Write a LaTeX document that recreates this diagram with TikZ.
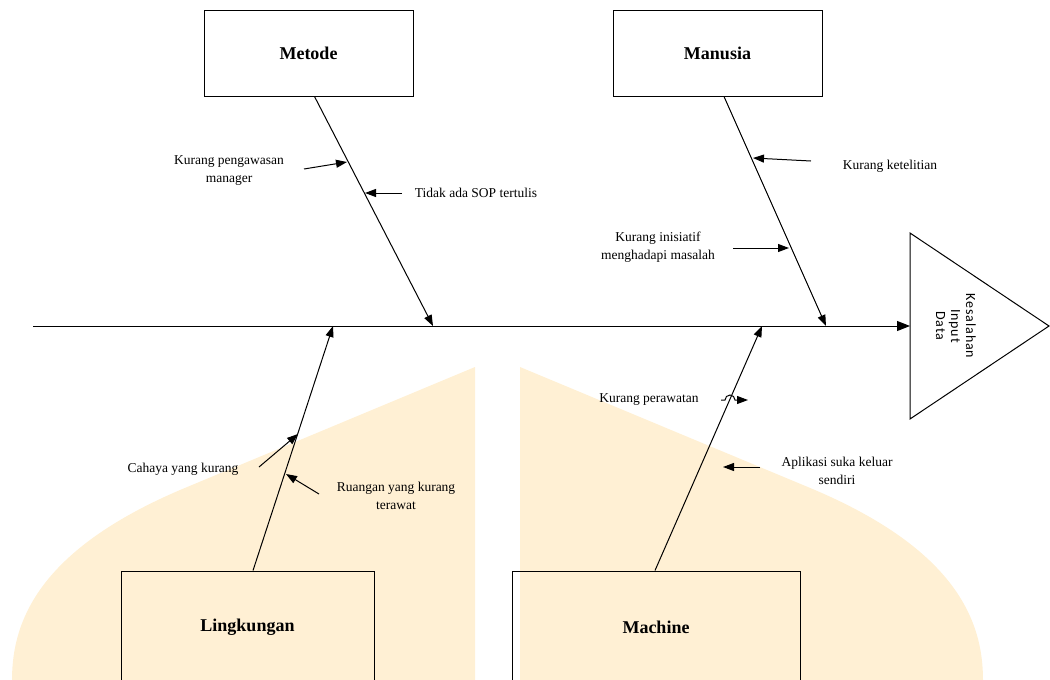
\documentclass[tikz,border=0pt]{standalone}
\usepackage{fontspec}
\setmainfont{Liberation Serif}
\newfontfamily\trifont{Carlito}[LetterSpace = 6]
\usetikzlibrary{arrows.meta}
\definecolor{leaf}{RGB}{255,240,212}

\begin{document}
\begin{tikzpicture}[x = 1pt, y = -1pt,
        font = \fontsize{13.5}{18}\selectfont,
        line width = 1pt,
        > = {Triangle[length = 11pt, width = 8pt]},
        box/.style = {draw, minimum width = 209pt, minimum height = 86pt, inner sep = 0pt,
            font = \fontsize{18}{20}\selectfont\bfseries},
        cause/.style = {align = center, inner sep = 0pt},
        bone/.style = {->}]

        \useasboundingbox (0, 0) rectangle (1050, 680);
        \clip (0, 0) rectangle (1050, 680);

        % background leaves
        \fill [leaf]
            (475, 680) -- (475, 367) -- (180, 490) .. controls (40, 550) and (12, 620) .. (12, 680) -- cycle
            (520, 680) -- (520, 367) -- (815, 490) .. controls (955, 550) and (983, 620) .. (983, 680) -- cycle
        ;

        % categories
        \node [box] (metode) at (308.5, 53) {Metode};
        \node [box] (manusia) at (717.5, 53) {Manusia};
        \node [box, minimum width = 253pt, minimum height = 112pt] (lingkungan) at (247.5, 627) {Lingkungan};
        \node [box, minimum width = 288pt, minimum height = 112pt] (machine) at (656, 627) {Machine};

        % effect
        \draw (910, 233) -- (1049, 326) -- (910, 419) -- cycle;
        \coordinate (effectBase) at (910, 326);
        \node [font = \trifont\fontsize{14}{15}\selectfont, align = center, rotate = -90, inner sep = 0pt]
            (effect) at (956, 326) {Kesalahan\\Input\\Data};

        % spine and bones
        \coordinate (spineTail) at (33, 326);
        \coordinate (metodeHead) at (433, 326);
        \coordinate (manusiaHead) at (826, 326);
        \coordinate (lingkunganHead) at (333, 326);
        \coordinate (machineHead) at (762, 326);

        \draw [bone, > = {Triangle[length = 13pt, width = 10pt]}] (spineTail) -- (effectBase);
        \draw [bone] ([xshift = 6pt] metode.south) -- (metodeHead);
        \draw [bone] ([xshift = 6.5pt] manusia.south) -- (manusiaHead);
        \draw [bone] ([xshift = 5.5pt] lingkungan.north) -- (lingkunganHead);
        \draw [bone] ([xshift = -1pt] machine.north) -- (machineHead);

        % causes
        \node [cause] (pengawasan) at (229, 171) {Kurang pengawasan\\manager};
        \node [cause] (sop) at (476, 193) {Tidak ada SOP tertulis};
        \node [cause] (ketelitian) at (890, 166) {Kurang ketelitian};
        \node [cause] (inisiatif) at (658, 247) {Kurang inisiatif\\menghadapi masalah};
        \node [cause] (cahaya) at (183, 469) {Cahaya yang kurang};
        \node [cause] (ruangan) at (396, 496) {Ruangan yang kurang\\terawat};
        \node [cause] (perawatan) at (649, 400) {Kurang perawatan};
        \node [cause] (aplikasi) at (837, 471) {Aplikasi suka keluar\\sendiri};

        \coordinate (pengawasanTail) at (304, 169);
        \coordinate (pengawasanHead) at (347, 162);
        \coordinate (sopTail) at (402, 193);
        \coordinate (sopHead) at (365, 193);
        \coordinate (ketelitianTail) at (811, 161);
        \coordinate (ketelitianHead) at (753, 158);
        \coordinate (inisiatifTail) at (733, 248);
        \coordinate (inisiatifHead) at (789, 248);
        \coordinate (cahayaTail) at (259, 467);
        \coordinate (cahayaHead) at (298, 434);
        \coordinate (ruanganTail) at (319, 494);
        \coordinate (ruanganHead) at (286, 474);
        \coordinate (perawatanTail) at (721, 400);
        \coordinate (perawatanHead) at (748, 400);
        \coordinate (aplikasiTail) at (760, 467);
        \coordinate (aplikasiHead) at (723, 467);

        \draw [->]
            (pengawasanTail) -- (pengawasanHead)
        ;
        \draw [->] (sopTail) -- (sopHead);
        \draw [->] (ketelitianTail) -- (ketelitianHead);
        \draw [->] (inisiatifTail) -- (inisiatifHead);
        \draw [->] (cahayaTail) -- (cahayaHead);
        \draw [->] (ruanganTail) -- (ruanganHead);
        \draw [->] (perawatanTail) -- ++(4, 0) arc [start angle = 180, end angle = 360, radius = 5] -- (perawatanHead);
        \draw [->] (aplikasiTail) -- (aplikasiHead);
    \end{tikzpicture}
\end{document}
